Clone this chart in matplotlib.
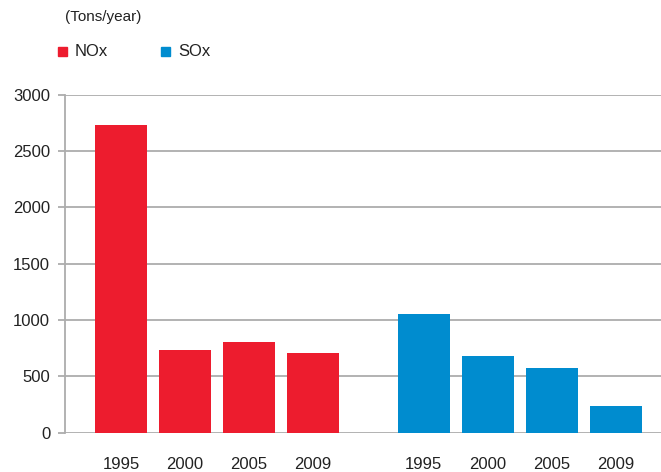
import matplotlib
matplotlib.use("Agg")
import matplotlib.pyplot as plt
from matplotlib.patches import Rectangle

plt.rcParams['font.family'] = ['Liberation Sans', 'DejaVu Sans']

years = ['1995', '2000', '2005', '2009']
nox = [2730, 734, 805, 707]
sox = [1053, 680, 574, 237]
series = ['NOx', 'SOx']
colors = ['#ED1C2E', '#008CCF']

fig = plt.figure(figsize=(6.61, 4.72), dpi=100)
ax = fig.add_axes([0.099, 0.0833, 0.901, 0.7161])

# group positions in units of one bar slot
x_nox = [i for i in range(len(years))]
x_sox = [i + 4.73 for i in range(len(years))]

ax.bar(x_nox, nox, width=0.8125, color=colors[0], zorder=3)
ax.bar(x_sox, sox, width=0.8125, color=colors[1], zorder=3)

ax.set_xlim(-0.867, 8.4375)
ax.set_ylim(0, 3000)
ax.set_yticks(range(0, 3001, 500))
ax.set_xticks(x_nox + x_sox)
ax.set_xticklabels(years + years)

ax.yaxis.grid(True, color='#ADADAD', linewidth=1.3, zorder=0)
ax.set_axisbelow(True)
for s in ['top', 'right', 'bottom']:
    ax.spines[s].set_visible(False)
ax.spines['left'].set_color('#ADADAD')
ax.spines['left'].set_linewidth(1.3)

ax.tick_params(axis='y', length=5, width=1.3, color='#ADADAD', labelsize=12, pad=6, labelcolor='#222222')
ax.tick_params(axis='x', length=0, labelsize=12, pad=17.5, labelcolor='#222222')

fig.text(65 / 661, 1 - 17 / 472, '(Tons/year)', fontsize=11, va='center', ha='left', color='#222222')

# legend
leg_x = [58, 161]
for name, c, lx in zip(series, colors, leg_x):
    fig.add_artist(Rectangle((lx / 661, 1 - 56 / 472), 9 / 661, 9 / 472,
                             transform=fig.transFigure, color=c))
    fig.text((lx + 17) / 661, 1 - 51 / 472, name, fontsize=12, va='center', ha='left', color='#222222')

fig.savefig('out.png', dpi=100)
